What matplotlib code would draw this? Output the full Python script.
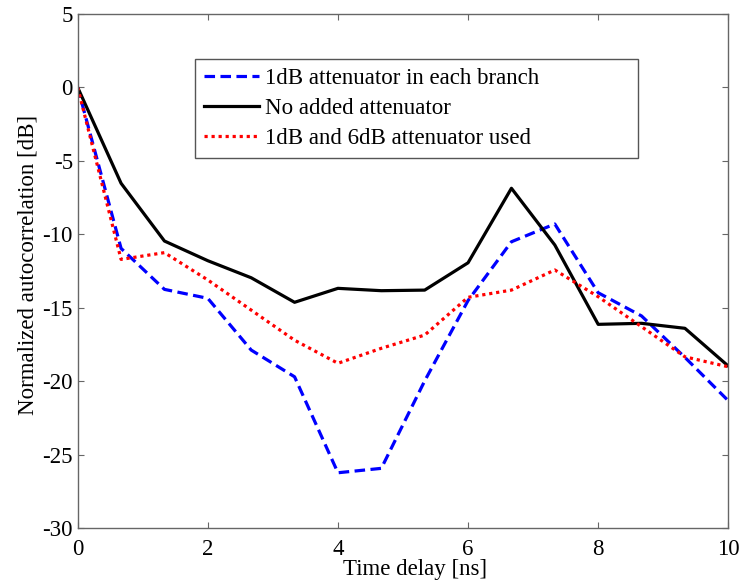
import matplotlib
matplotlib.use("Agg")
import matplotlib.pyplot as plt
import numpy as np

# Data
time_delay = [0, 2/3, 4/3, 2, 8/3, 10/3, 4, 14/3, 16/3, 6, 20/3, 22/3, 8, 26/3, 28/3, 10]
atten_1db_each = [0, -10.95, -13.74, -14.35, -17.87, -19.69, -26.22, -25.92, -19.97,
                  -14.5, -10.5, -9.29, -13.97, -15.55, -18.37, -21.32]
no_atten = [0, -6.52, -10.45, -11.79, -12.95, -14.62, -13.67, -13.83, -13.79,
            -11.93, -6.86, -10.72, -16.12, -16.05, -16.39, -18.96]
atten_1db_6db = [0, -11.7, -11.24, -13.1, -15.15, -17.2, -18.77, -17.75, -16.85,
                 -14.28, -13.79, -12.42, -14.24, -16.28, -18.33, -19.01]
labels = ["1dB attenuator in each branch", "No added attenuator", "1dB and 6dB attenuator used"]
xticks = [0, 2, 4, 6, 8, 10]
yticks = [5, 0, -5, -10, -15, -20, -25, -30]

plt.rcParams['font.family'] = ['Liberation Serif', 'DejaVu Serif']
plt.rcParams['axes.unicode_minus'] = False
fs = 16.5
plt.rcParams['font.size'] = fs

fig = plt.figure(figsize=(7.46, 5.86), dpi=100)
ax = fig.add_axes([77.7/746, (586-528.3)/586, (728.3-77.7)/746, (528.3-14)/586])

lw = 2.3
ax.plot(time_delay, atten_1db_each, color='#0000ff', lw=lw, linestyle=(0, (3.3, 1.7)), label=labels[0])
ax.plot(time_delay, no_atten, color='black', lw=lw, linestyle='-', label=labels[1])
ax.plot(time_delay, atten_1db_6db, color='#ff0000', lw=lw, linestyle=(0, (1, 1.2)), label=labels[2])

ax.set_xlim(0, 10)
ax.set_ylim(-30, 5)
ax.set_xticks(xticks)
ax.set_yticks(yticks)
ax.tick_params(direction='in', length=4, width=0.8, color='#666666', top=True, right=True,
               labelsize=fs)
ax.tick_params(axis='x', pad=7.5)
ax.tick_params(axis='y', pad=3.5)
for s in ax.spines.values():
    s.set_color('#666666')
    s.set_linewidth(1.0)

ax.set_xlabel("Time delay [ns]", fontsize=fs)
ax.xaxis.set_label_coords(0.519, -0.060)
ax.set_ylabel("Normalized autocorrelation [dB]", fontsize=fs)
ax.yaxis.set_label_coords(-0.0595, 0.513)

x0 = (195 - 77.7) / 650.6
x1 = (638 - 77.7) / 650.6
ytop = (528.3 - 59.3) / 514.3
leg = ax.legend(loc='upper left', bbox_to_anchor=(x0, ytop - 0.3, x1 - x0, 0.3), mode='expand',
                fontsize=fs, frameon=True, fancybox=False, framealpha=1, edgecolor='#555555',
                handlelength=2.4, handletextpad=0.26, labelspacing=0.4,
                borderpad=0.38, borderaxespad=0)
leg.get_frame().set_linewidth(1.0)

fig.savefig("out.png", dpi=100)
